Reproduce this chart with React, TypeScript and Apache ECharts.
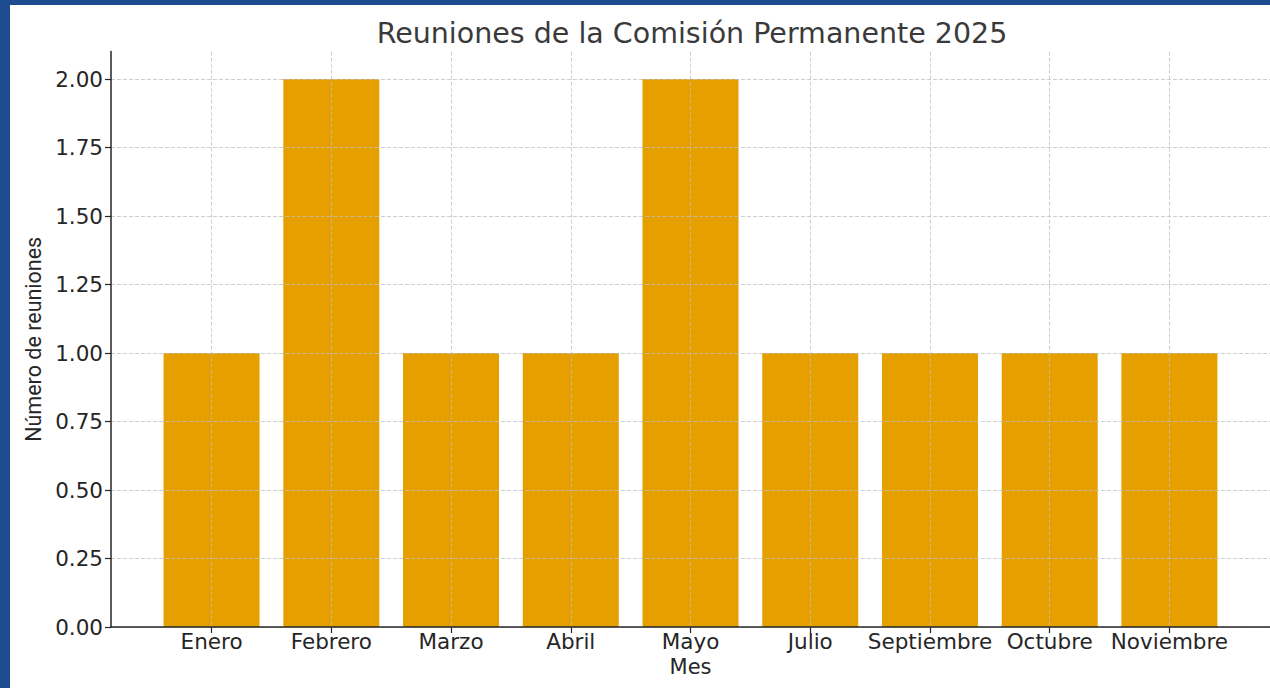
import React, { useEffect, useRef } from "react";
import * as echarts from "echarts";

const months: string[] = ["Enero", "Febrero", "Marzo", "Abril", "Mayo", "Julio", "Septiembre", "Octubre", "Noviembre"];
const meetings: number[] = [1, 2, 1, 1, 2, 1, 1, 1, 1];
const yTicks: number[] = [0, 0.25, 0.5, 0.75, 1, 1.25, 1.5, 1.75, 2];
const xTicks: number[] = months.map((_, i) => i);

const titleText = "Reuniones de la Comisión Permanente 2025";
const xName = "Mes";
const yName = "Número de reuniones";

export default function App() {
  const ref = useRef<HTMLDivElement>(null);
  useEffect(() => {
    if (!ref.current) return;
    const chart = echarts.init(ref.current, undefined, { renderer: "svg" });
    const font = "DejaVu Sans";
    const gridLine = { show: true, lineStyle: { color: "rgba(190,190,190,0.75)", type: [4, 2] as any, width: 1 } };
    chart.setOption({
      animation: false,
      backgroundColor: "#ffffff",
      textStyle: { fontFamily: font },
      grid: { left: 111, right: -3, top: 51.6, bottom: 61, containLabel: false },
      xAxis: {
        type: "value",
        min: -0.84,
        max: 8.84,
        z: 3,
        name: xName,
        nameLocation: "middle",
        nameGap: 23,
        nameTextStyle: { fontFamily: font, fontSize: 21, color: "#262626" },
        axisLine: { show: true, onZero: false, lineStyle: { color: "#262626", width: 1.5 } },
        axisTick: { show: true, length: 6, customValues: xTicks, lineStyle: { color: "#262626", width: 1.2 } },
        axisLabel: {
          customValues: xTicks,
          formatter: (v: number) => months[Math.round(v)] ?? "",
          fontFamily: font,
          fontSize: 21.5,
          color: "#262626",
          margin: 3,
        },
        splitLine: gridLine,
      },
      yAxis: {
        type: "value",
        min: 0,
        max: 2.1,
        z: 3,
        name: yName,
        nameLocation: "middle",
        nameRotate: 90,
        nameGap: 60,
        nameTextStyle: { fontFamily: "Roboto", fontSize: 21.5, color: "#262626" },
        axisLine: { show: true, onZero: false, lineStyle: { color: "#262626", width: 1.5 } },
        axisTick: { show: true, length: 6, customValues: yTicks, lineStyle: { color: "#262626", width: 1.2 } },
        axisLabel: {
          customValues: yTicks,
          formatter: (v: number) => v.toFixed(2),
          fontFamily: font,
          fontSize: 21.5,
          color: "#262626",
          margin: 8,
        },
        splitLine: gridLine,
      },
      series: [
        {
          type: "bar",
          data: months.map((_, i) => [i, meetings[i]]),
          barWidth: 96,
          itemStyle: { color: "#e5a000" },
          z: 2,
        },
      ],
      graphic: [
        {
          type: "text",
          x: 692,
          y: 33,
          z: 10,
          style: {
            text: titleText,
            fontFamily: font,
            fontSize: 28.5,
            fill: "#3a3a3a",
            textAlign: "center",
            textVerticalAlign: "middle",
          },
        },
        { type: "rect", x: 0, y: 0, z: 20, shape: { width: 10, height: 688 }, style: { fill: "#1e4a8e" } },
        { type: "rect", x: 0, y: 0, z: 20, shape: { width: 1270, height: 5 }, style: { fill: "#1e4a8e" } },
      ],
    });
    return () => chart.dispose();
  }, []);
  return (
    <div
      ref={ref}
      style={{ position: "fixed", left: 0, top: 0, width: 1270, height: 688, overflow: "hidden" }}
    />
  );
}
